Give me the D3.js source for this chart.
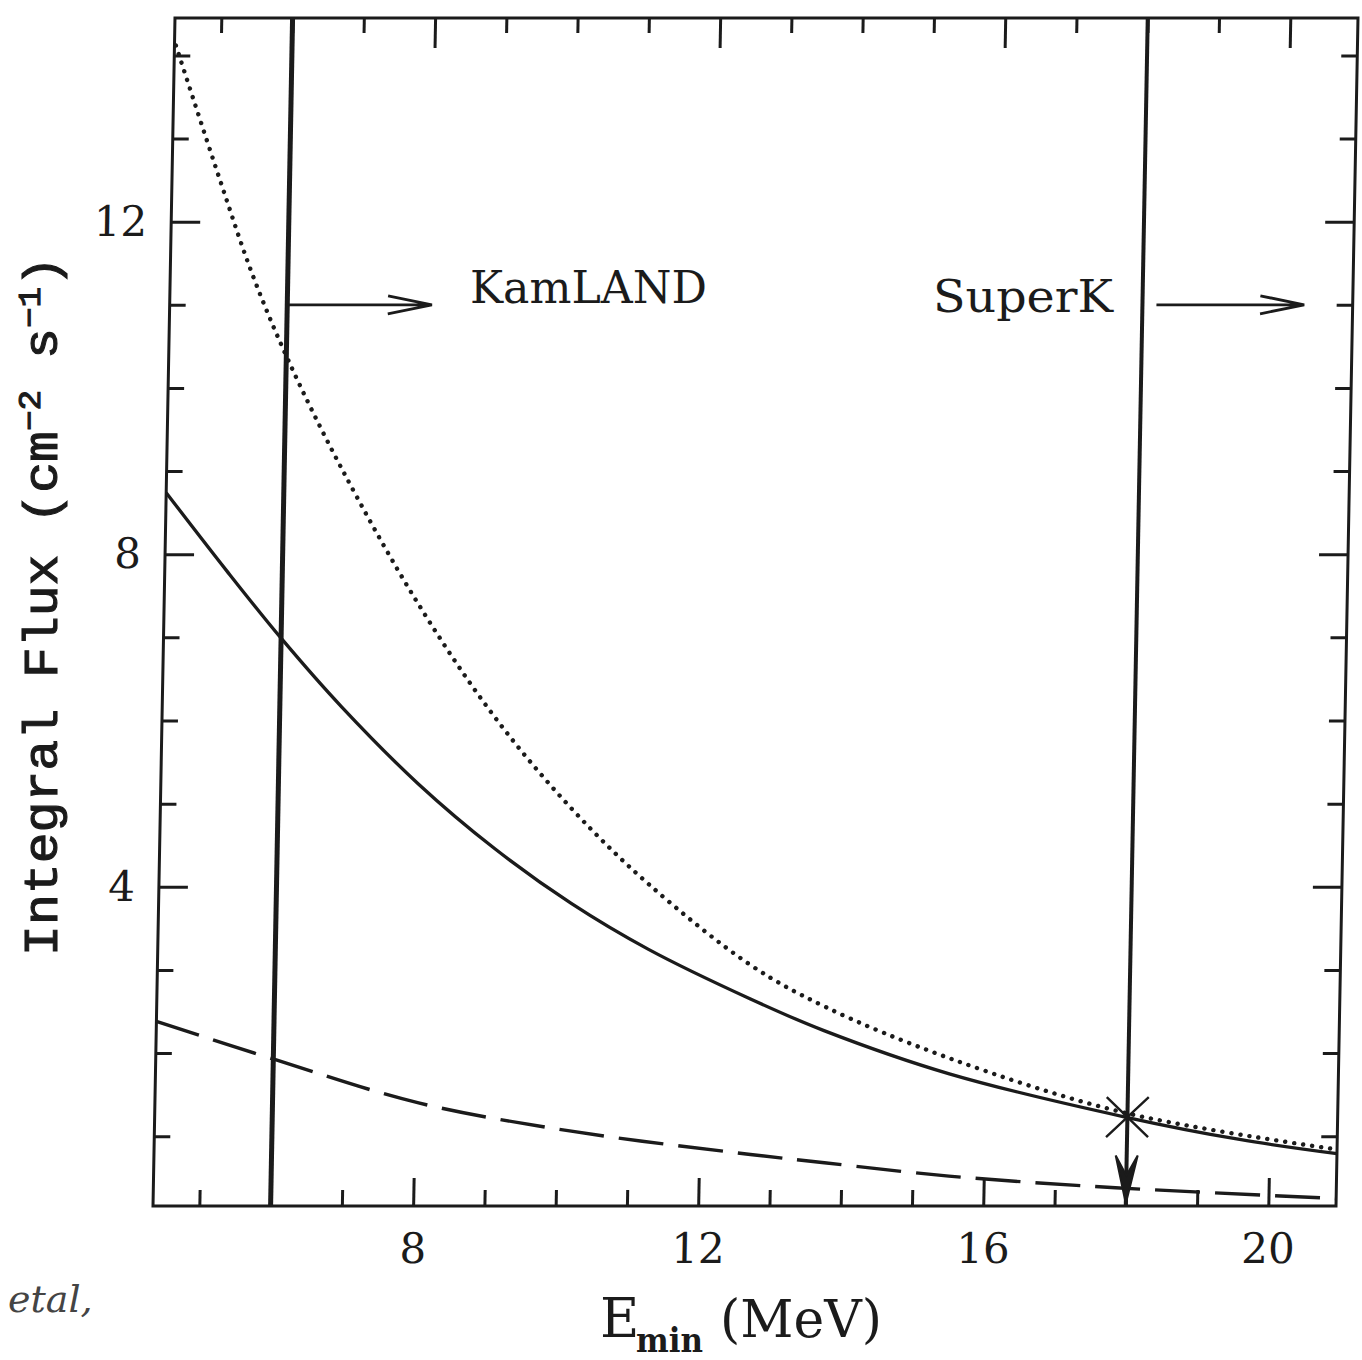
<!DOCTYPE html>
<html><head><meta charset="utf-8">
<script src="https://cdn.jsdelivr.net/npm/d3@7"></script>
<style>body{margin:0;background:#fff}</style>
</head><body>
<svg id="c" width="1362" height="1360"></svg>
<script>
// ---- data ----
const solidE    = [4.35, 5.22, 6.0, 6.86, 7.96, 9.05, 10.14, 11.23, 12.68, 13.72, 15.49, 17.97, 19.58, 20.95];
const solidFlux = [8.74, 7.80, 6.99, 6.17, 5.24, 4.46, 3.80, 3.25, 2.65, 2.27, 1.75, 1.23, 0.96, 0.79];
const dottedE    = [4.37, 5.02, 5.51, 6.03, 6.80, 7.91, 9.01, 10.12, 11.21, 12.67, 13.72, 15.48, 17.97, 20.95];
const dottedFlux = [14.12, 12.51, 11.35, 10.33, 9.04, 7.41, 6.05, 4.94, 4.04, 3.06, 2.56, 1.94, 1.28, 0.84];
const dashedE    = [4.35, 6.03, 8.05, 10.2, 12.72, 13.76, 15.51, 17.85, 20.95];
const dashedFlux = [2.38, 1.92, 1.40, 1.06, 0.78, 0.68, 0.52, 0.38, 0.25];
const thresholds = [6.0, 18.0];              // KamLAND, SuperK
const thresholdLabels = ["KamLAND", "SuperK"];
const arrowEnds = [8.03, 20.27];             // arrow tips (MeV)
const arrowFlux = 11.0;
const markerE = 18.0, markerFlux = 1.23;
const xMajorTicks = [8, 12, 16, 20];
const xMinorTicks = [5, 6, 7, 9, 10, 11, 13, 14, 15, 17, 18, 19];
const yMajorTicks = [4, 8, 12];
const yMinorTicks = [1, 2, 3, 5, 6, 7, 9, 10, 11, 13, 14];

// ---- layout ----
const L = 153, R = 1336, T = 18, B = 1206;
const x = d3.scaleLinear().domain([4.35, 20.95]).range([L, R]);
const y = d3.scaleLinear().domain([0.16, 14.45]).range([B, T]);
const ink = "#1b1b1b";
const svg = d3.select("#c");
svg.append("rect").attr("width", 1362).attr("height", 1360).attr("fill", "#fff");

// the scanned figure is slightly sheared: top edge sits ~22px right of the bottom
const g = svg.append("g")
  .attr("transform", `translate(0,${B}) skewX(-1.06) translate(0,${-B})`);

// frame
g.append("rect").attr("x", L).attr("y", T).attr("width", R - L).attr("height", B - T)
  .attr("fill", "none").attr("stroke", ink).attr("stroke-width", 3);

function styleAxis(sel) {
  sel.select(".domain").remove();
  sel.selectAll(".tick line").attr("stroke", ink).attr("stroke-width", 3);
  sel.selectAll("text").attr("fill", ink).attr("font-family", "DejaVu Serif").attr("font-size", 42);
}
// bottom
g.append("g").attr("transform", `translate(0,${B})`)
  .call(d3.axisBottom(x).tickValues(xMajorTicks).tickSize(-28).tickPadding(27).tickFormat(d3.format("d"))).call(styleAxis);
g.append("g").attr("transform", `translate(0,${B})`)
  .call(d3.axisBottom(x).tickValues(xMinorTicks).tickSize(-16).tickFormat("")).call(styleAxis);
// top
g.append("g").attr("transform", `translate(0,${T})`)
  .call(d3.axisTop(x).tickValues(xMajorTicks).tickSize(-30).tickFormat("")).call(styleAxis);
g.append("g").attr("transform", `translate(0,${T})`)
  .call(d3.axisTop(x).tickValues(xMinorTicks).tickSize(-15).tickFormat("")).call(styleAxis);
// left
g.append("g").attr("transform", `translate(${L},0)`)
  .call(d3.axisLeft(y).tickValues(yMajorTicks).tickSize(-29).tickPadding(24).tickFormat(d3.format("d"))).call(styleAxis);
g.append("g").attr("transform", `translate(${L},0)`)
  .call(d3.axisLeft(y).tickValues(yMinorTicks).tickSize(-16).tickFormat("")).call(styleAxis);
// right
g.append("g").attr("transform", `translate(${R},0)`)
  .call(d3.axisRight(y).tickValues(yMajorTicks).tickSize(-29).tickFormat("")).call(styleAxis);
g.append("g").attr("transform", `translate(${R},0)`)
  .call(d3.axisRight(y).tickValues(yMinorTicks).tickSize(-16).tickFormat("")).call(styleAxis);

// curves
const line = d3.line().x(d => x(d[0])).y(d => y(d[1])).curve(d3.curveCatmullRom.alpha(0.5));
const zip = (a, b) => a.map((v, i) => [v, b[i]]);
g.append("path").datum(zip(dashedE, dashedFlux)).attr("d", line)
  .attr("fill", "none").attr("stroke", ink).attr("stroke-width", 3.4).attr("stroke-dasharray", "45 15");
g.append("path").datum(zip(dottedE, dottedFlux)).attr("d", line)
  .attr("fill", "none").attr("stroke", ink).attr("stroke-width", 4.4)
  .attr("stroke-linecap", "round").attr("stroke-dasharray", "0.1 9");
g.append("path").datum(zip(solidE, solidFlux)).attr("d", line)
  .attr("fill", "none").attr("stroke", ink).attr("stroke-width", 3.3);

// threshold lines
g.selectAll("line.thr").data(thresholds).join("line").attr("class", "thr")
  .attr("x1", d => x(d)).attr("x2", d => x(d)).attr("y1", T).attr("y2", B)
  .attr("stroke", ink).attr("stroke-width", (d, i) => i === 0 ? 5 : 4);

// horizontal arrows
thresholds.forEach((t, i) => {
  const x0 = x(t) + (i === 1 ? 14 : 0), x1 = x(arrowEnds[i]), yy = y(arrowFlux);
  g.append("path")
    .attr("d", `M${x0},${yy}H${x1}M${x1 - 44},${yy - 9}L${x1},${yy}L${x1 - 44},${yy + 9}`)
    .attr("fill", "none").attr("stroke", ink).attr("stroke-width", 2.8);
});

// star marker + downward arrow on SuperK line
const mx = x(markerE), my = y(markerFlux);
g.append("path")
  .attr("d", `M${mx - 21},${my - 20}L${mx + 21},${my + 20}M${mx + 21},${my - 20}L${mx - 21},${my + 20}`)
  .attr("stroke", ink).attr("stroke-width", 2.4).attr("fill", "none");
const ay = y(0.19);
g.append("path")
  .attr("d", `M${mx},${ay}L${mx - 11},${ay - 48}L${mx},${ay - 28}L${mx + 11},${ay - 48}Z`)
  .attr("fill", ink).attr("stroke", ink).attr("stroke-width", 2);

// labels
svg.append("text").attr("x", 470).attr("y", 303).text(thresholdLabels[0])
  .attr("font-family", "DejaVu Serif").attr("font-size", 45).attr("fill", ink)
  .attr("textLength", 237).attr("lengthAdjust", "spacingAndGlyphs");
svg.append("text").attr("x", 933).attr("y", 312).text(thresholdLabels[1])
  .attr("font-family", "DejaVu Serif").attr("font-size", 45).attr("fill", ink)
  .attr("textLength", 180).attr("lengthAdjust", "spacingAndGlyphs");

// axis titles
const yt = svg.append("text").attr("transform", "translate(57,606) rotate(-90)")
  .attr("text-anchor", "middle").attr("font-family", "Liberation Mono")
  .attr("font-size", 48).attr("fill", ink).attr("stroke", ink).attr("stroke-width", 1.1)
  .attr("textLength", 700).attr("lengthAdjust", "spacingAndGlyphs");
yt.append("tspan").text("Integral Flux (cm");
yt.append("tspan").attr("dy", -17).attr("font-size", 32).text("−2");
yt.append("tspan").attr("dy", 17).text(" s");
yt.append("tspan").attr("dy", -17).attr("font-size", 32).text("−1");
yt.append("tspan").attr("dy", 17).text(")");

svg.append("text").attr("x", 600).attr("y", 1337).text("E")
  .attr("font-family", "DejaVu Serif").attr("font-size", 54).attr("fill", ink);
svg.append("text").attr("x", 636).attr("y", 1352).text("min")
  .attr("font-family", "DejaVu Serif").attr("font-weight", "bold").attr("font-size", 34).attr("fill", ink)
  .attr("textLength", 67).attr("lengthAdjust", "spacingAndGlyphs");
svg.append("text").attr("x", 720).attr("y", 1337).text("(MeV)")
  .attr("font-family", "DejaVu Serif").attr("font-size", 52).attr("fill", ink)
  .attr("textLength", 162).attr("lengthAdjust", "spacingAndGlyphs");

// handwritten note in the scan margin
svg.append("text").attr("x", 8).attr("y", 1312).text("etal,")
  .attr("font-family", "DejaVu Serif").attr("font-style", "italic").attr("font-size", 38)
  .attr("fill", "#444");
</script>
</body></html>
